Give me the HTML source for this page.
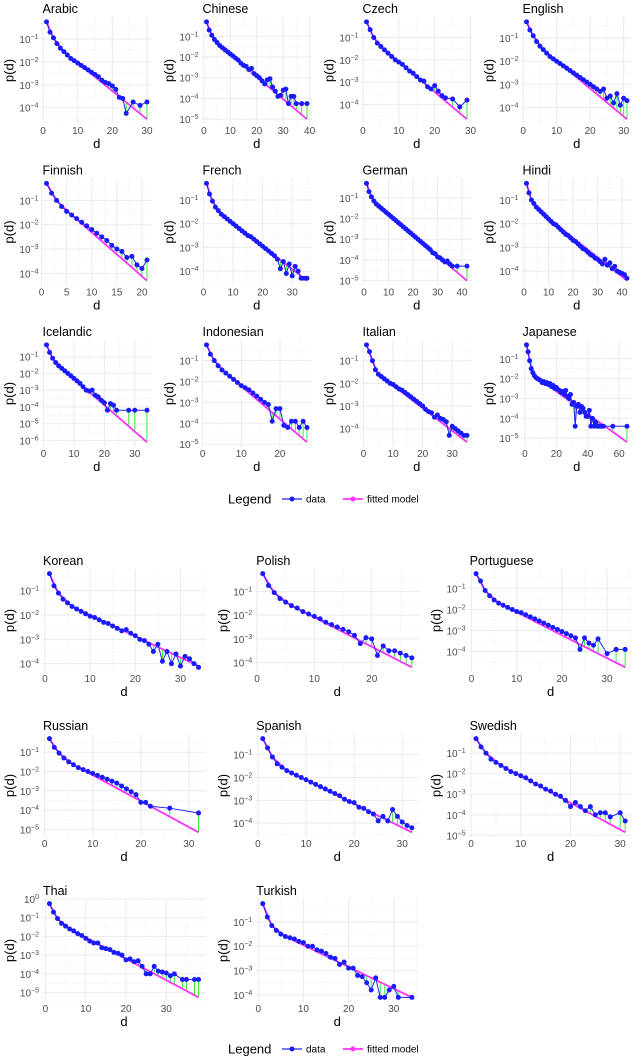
<!DOCTYPE html>
<html><head><meta charset="utf-8">
<style>
body{margin:0;background:#fff;width:640px;height:1057px;overflow:hidden;font-family:"Liberation Sans",sans-serif}
svg text{font-family:"Liberation Sans","DejaVu Sans",sans-serif}
</style></head><body>
<svg id="chart" width="640" height="1057" viewBox="0 0 640 1057" xmlns="http://www.w3.org/2000/svg"></svg>
<script>
// log10 p(d) values for d=1..N (null = no observation)
const languages = ["Arabic","Chinese","Czech","English","Finnish","French","German","Hindi","Icelandic","Indonesian","Italian","Japanese","Korean","Polish","Portuguese","Russian","Spanish","Swedish","Thai","Turkish"];
const dataArabic = [-0.25,-0.7,-0.95,-1.2,-1.4,-1.55,-1.7,-1.85,-1.95,-2.05,-2.15,-2.25,-2.35,-2.45,-2.55,-2.65,-2.8,-2.9,-2.95,-3.05,-3.2,-3.55,-3.6,-4.25,null,-3.75,null,-3.9,null,-3.75];
const dataChinese = [-0.3,-0.7,-0.95,-1.15,-1.3,-1.45,-1.55,-1.65,-1.75,-1.85,-1.95,-2.05,-2.15,-2.3,-2.4,-2.45,-2.6,-2.55,-2.8,-2.9,-3.0,-3.15,-3.3,-3.1,-3.05,-3.45,-3.65,-3.9,-3.85,-3.6,-3.55,-4.25,-3.9,-3.9,-4.25,null,-4.25,null,-4.25];
const dataCzech = [-0.3,-0.65,-1.0,-1.25,-1.4,-1.55,-1.7,-1.85,-2.0,-2.1,-2.2,-2.35,-2.5,-2.6,-2.75,-2.9,-2.95,-3.2,-3.3,-3.15,-3.4,-3.6,-3.7,null,-3.75,null,-4.1,null,-3.8];
const dataEnglish = [-0.3,-0.65,-0.9,-1.15,-1.35,-1.5,-1.65,-1.8,-1.9,-2.0,-2.1,-2.2,-2.3,-2.4,-2.5,-2.6,-2.7,-2.8,-2.9,-3.0,-3.1,-3.2,-3.3,-3.2,-3.6,-3.5,-3.8,-3.4,-3.9,-3.6,-3.7];
const dataFinnish = [-0.3,-0.7,-1.0,-1.25,-1.45,-1.6,-1.75,-1.9,-2.05,-2.2,-2.35,-2.5,-2.65,-2.85,-3.0,-3.1,-3.35,-3.3,-3.65,-3.8,-3.45];
const dataFrench = [-0.3,-0.75,-1.05,-1.3,-1.45,-1.6,-1.7,-1.8,-1.9,-2.0,-2.1,-2.2,-2.3,-2.4,-2.5,-2.55,-2.65,-2.75,-2.85,-2.95,-3.05,-3.15,-3.25,-3.35,-3.5,-3.9,-3.6,-4.1,-3.7,-4.2,-3.8,-4.0,-4.3,-4.3,-4.3];
const dataGerman = [-0.3,-0.7,-0.95,-1.15,-1.3,-1.4,-1.5,-1.6,-1.7,-1.8,-1.9,-2.0,-2.1,-2.2,-2.3,-2.4,-2.5,-2.6,-2.7,-2.8,-2.9,-3.0,-3.1,-3.2,-3.3,-3.4,-3.5,-3.65,-3.7,-3.85,-3.9,-4.0,-4.1,-4.05,-4.2,-4.3,null,-4.3,null,null,null,-4.3];
const dataHindi = [-0.3,-0.7,-1.0,-1.15,-1.3,-1.4,-1.5,-1.6,-1.7,-1.8,-1.9,-2.0,-2.05,-2.15,-2.25,-2.35,-2.45,-2.5,-2.6,-2.7,-2.75,-2.85,-2.95,-3.05,-3.1,-3.2,-3.3,-3.35,-3.45,-3.5,-3.6,-3.7,-3.5,-3.75,-3.65,-3.9,-3.8,-4.0,-4.05,-4.1,-4.15,-4.3];
const dataIcelandic = [-0.3,-0.75,-1.1,-1.35,-1.55,-1.7,-1.85,-2.0,-2.15,-2.3,-2.45,-2.6,-2.8,-3.0,-3.05,-3.0,-3.3,-3.4,-3.6,-3.75,-4.2,-3.8,-3.9,-4.2,null,null,null,-4.2,null,-4.2,null,null,null,-4.2];
const dataIndonesian = [-0.25,-0.7,-1.0,-1.25,-1.45,-1.6,-1.75,-1.9,-2.05,-2.2,-2.3,-2.4,-2.55,-2.7,-2.85,-3.0,-3.1,-3.9,-3.3,-3.3,-4.1,-4.2,-3.9,-3.9,-4.2,-3.9,-4.2];
const dataItalian = [-0.3,-0.6,-1.0,-1.4,-1.6,-1.7,-1.8,-1.9,-2.0,-2.05,-2.15,-2.25,-2.3,-2.4,-2.5,-2.6,-2.7,-2.8,-2.9,-3.0,-3.15,-3.25,-3.3,-3.5,-3.4,-3.55,-3.6,-3.7,-4.3,-3.9,-4.0,-4.1,-4.2,-4.3,-4.3];
const dataJapanese = [-0.3,-0.65,-1.1,-1.5,-1.7,-1.85,-1.95,-2.0,-2.05,-2.1,-2.2,-2.15,-2.25,-2.2,-2.3,-2.25,-2.4,-2.35,-2.5,-2.45,-2.55,-2.6,-2.7,-2.65,-2.8,-2.6,-2.9,-3.0,-2.8,-3.3,-3.2,-4.4,-3.4,-3.3,-3.7,-3.4,-3.5,-3.7,-3.9,-3.9,-3.6,-4.4,-4.0,-4.4,-4.2,-4.4,-4.4,-4.4,-4.4,-4.4,null,null,null,null,null,-4.4,null,null,null,null,null,null,null,null,-4.4];
const dataKorean = [-0.3,-0.8,-1.1,-1.35,-1.5,-1.65,-1.75,-1.85,-1.95,-2.05,-2.1,-2.2,-2.3,-2.35,-2.45,-2.55,-2.65,-2.6,-2.75,-2.85,-3.0,-3.05,-3.2,-3.5,-3.2,-3.9,-3.5,-4.0,-3.6,-4.1,-3.7,-3.8,-4.0,-4.15];
const dataPolish = [-0.25,-0.75,-1.05,-1.3,-1.45,-1.6,-1.7,-1.85,-1.95,-2.05,-2.15,-2.3,-2.4,-2.5,-2.6,-2.7,-2.85,-3.2,-2.95,-3.0,-3.7,-3.3,-3.5,-3.5,-3.6,-3.7,-3.8];
const dataPortuguese = [-0.3,-0.65,-1.1,-1.35,-1.55,-1.7,-1.8,-1.9,-2.0,-2.1,-2.15,-2.25,-2.35,-2.45,-2.55,-2.65,-2.75,-2.85,-2.95,-3.05,-3.15,-3.25,-3.35,-3.9,-3.35,-3.6,-3.7,-3.4,null,-4.1,null,-3.9,null,-3.9];
const dataRussian = [-0.3,-0.75,-1.05,-1.3,-1.5,-1.65,-1.8,-1.9,-2.0,-2.1,-2.2,-2.3,-2.4,-2.5,-2.6,-2.75,-2.9,-3.05,-3.2,-3.6,-3.6,-3.8,null,null,null,-3.9,null,null,null,null,null,-4.15];
const dataSpanish = [-0.3,-0.7,-1.1,-1.4,-1.55,-1.7,-1.8,-1.9,-2.0,-2.1,-2.2,-2.3,-2.4,-2.5,-2.6,-2.7,-2.8,-2.95,-3.05,-3.1,-3.3,-3.35,-3.5,-3.6,-3.9,-3.7,-3.9,-3.4,-3.7,-3.95,-4.1,-4.2];
const dataSwedish = [-0.3,-0.7,-1.0,-1.3,-1.45,-1.6,-1.75,-1.9,-2.0,-2.1,-2.2,-2.35,-2.5,-2.6,-2.75,-2.85,-3.0,-3.1,-3.3,-3.6,-3.4,-3.6,-3.8,-3.6,-4.0,-3.9,-3.9,-4.1,null,-3.9,-4.3];
const dataThai = [-0.25,-0.7,-1.05,-1.3,-1.45,-1.6,-1.7,-1.85,-1.95,-2.1,-2.25,-2.35,-2.35,-2.6,-2.65,-2.7,-2.85,-2.9,-3.0,-3.25,-3.2,-3.35,-3.3,-3.6,-4.0,-4.0,-3.6,-3.85,-3.9,-3.95,-4.1,-4.0,null,-4.3,-4.3,null,-4.3,-4.3];
const dataTurkish = [-0.25,-0.8,-1.15,-1.35,-1.5,-1.6,-1.65,-1.7,-1.8,-1.85,-2.0,-2.0,-2.15,-2.2,-2.3,-2.45,-2.5,-2.75,-2.65,-2.9,-2.9,-3.2,-3.25,-3.5,-3.8,-3.3,-4.1,-4.1,-3.8,-3.65,-4.1,null,null,-4.1];
const seriesData = [dataArabic,dataChinese,dataCzech,dataEnglish,dataFinnish,dataFrench,dataGerman,dataHindi,dataIcelandic,dataIndonesian,dataItalian,dataJapanese,dataKorean,dataPolish,dataPortuguese,dataRussian,dataSpanish,dataSwedish,dataThai,dataTurkish];
// fitted model knots [d, log10 p]
const fitArabic=[[1,-0.25],[3,-0.95],[6,-1.55],[30,-4.5]];
const fitChinese=[[1,-0.3],[3,-0.95],[6,-1.45],[39,-5.0]];
const fitCzech=[[1,-0.3],[3,-1.0],[6,-1.55],[29,-4.65]];
const fitEnglish=[[1,-0.3],[3,-0.9],[6,-1.5],[31,-4.5]];
const fitFinnish=[[1,-0.3],[3,-1.0],[6,-1.6],[21,-4.3]];
const fitFrench=[[1,-0.3],[3,-1.05],[6,-1.6],[35,-4.4]];
const fitGerman=[[1,-0.3],[3,-0.95],[6,-1.4],[42,-5.0]];
const fitHindi=[[1,-0.3],[3,-1.0],[6,-1.45],[42,-4.4]];
const fitIcelandic=[[1,-0.3],[3,-1.1],[6,-1.7],[34,-6.1]];
const fitIndonesian=[[1,-0.25],[3,-1.0],[6,-1.6],[27,-4.9]];
const fitItalian=[[1,-0.3],[3,-1.0],[5,-1.6],[35,-4.6]];
const fitJapanese=[[1,-0.3],[3,-1.1],[6,-1.85],[65,-5.2]];
const fitKorean=[[1,-0.3],[3,-1.1],[6,-1.65],[34,-4.1]];
const fitPolish=[[1,-0.25],[3,-1.05],[6,-1.6],[27,-4.2]];
const fitPortuguese=[[1,-0.3],[3,-1.1],[6,-1.7],[34,-4.75]];
const fitRussian=[[1,-0.3],[3,-1.05],[6,-1.65],[32,-5.15]];
const fitSpanish=[[1,-0.3],[3,-1.1],[6,-1.7],[32,-4.4]];
const fitSwedish=[[1,-0.3],[3,-1.0],[6,-1.6],[31,-4.85]];
const fitThai=[[1,-0.25],[3,-1.05],[6,-1.6],[38,-5.25]];
const fitTurkish=[[1,-0.25],[3,-1.15],[6,-1.6],[34,-4.1]];
const seriesFit=[fitArabic,fitChinese,fitCzech,fitEnglish,fitFinnish,fitFrench,fitGerman,fitHindi,fitIcelandic,fitIndonesian,fitItalian,fitJapanese,fitKorean,fitPolish,fitPortuguese,fitRussian,fitSpanish,fitSwedish,fitThai,fitTurkish];
const legendLabels=["data","fitted model"];

const svg=document.getElementById('chart');
const NS='http://www.w3.org/2000/svg';
function mk(tag,attrs,parent,text){const e=document.createElementNS(NS,tag);for(const k in attrs)e.setAttribute(k,attrs[k]);if(text!==undefined)e.textContent=text;parent.appendChild(e);return e;}
function fitAt(fit,d){for(let i=0;i<fit.length-1;i++){if(d<=fit[i+1][0]){const t=(d-fit[i][0])/(fit[i+1][0]-fit[i][0]);return fit[i][1]+t*(fit[i+1][1]-fit[i][1]);}}return fit[fit.length-1][1];}

function panel(idx,px0,px1,py0,py1){
  const name=languages[idx],vals=seriesData[idx],fit=seriesFit[idx];
  const g=mk('g',{},svg);
  
  
  const N=vals.length;
  let lo=Infinity,hi=-Infinity;
  vals.forEach(v=>{if(v!==null){lo=Math.min(lo,v);hi=Math.max(hi,v);}});
  fit.forEach(p=>{lo=Math.min(lo,p[1]);hi=Math.max(hi,p[1]);});
  const yr=hi-lo,ylo=lo-0.05*yr,yhi=hi+0.05*yr;
  const xr=N-1,xlo=1-0.05*xr,xhi=N+0.05*xr;
  const X=d=>px0+(d-xlo)/(xhi-xlo)*(px1-px0);
  const Y=v=>py1-(v-ylo)/(yhi-ylo)*(py1-py0);
  const step=N<=22?5:(N>50?20:10);
  for(let t=0;t<=xhi;t+=step/2){if(t<xlo)continue;const major=(t%step===0);
    const l=mk('line',{x1:X(t),x2:X(t),y1:py0,y2:py1,stroke:major?'#ebebeb':'#f4f4f4','stroke-width':major?1:0.6},g);
    
    if(major){const tx=mk('text',{x:X(t),y:py1+10,'font-size':10,fill:'#4d4d4d','text-anchor':'middle'},g,String(t));
      }}
  for(let k=Math.ceil(ylo*2)/2;k<=yhi;k+=0.5){const major=Number.isInteger(k);
    const l=mk('line',{x1:px0,x2:px1,y1:Y(k),y2:Y(k),stroke:major?'#ebebeb':'#f4f4f4','stroke-width':major?1:0.6},g);
    
    if(major){const tx=mk('text',{x:px0-3,y:Y(k)+4,'font-size':10,fill:'#4d4d4d','text-anchor':'end'},g);
      
      mk('tspan',{},tx,'10');
      mk('tspan',{dy:-4,'font-size':7},tx,k===0?'0':'\u2212'+(-k));}}
  const ti=mk('text',{x:px0+1,y:py0-4,'font-size':12.5,fill:'#000'},g,name);
  
  const xl=mk('text',{x:(px0+px1)/2,y:py1+24,'font-size':13,fill:'#000','text-anchor':'middle'},g,'d');
  
  const yl=mk('text',{x:0,y:0,'font-size':13,fill:'#000','text-anchor':'middle',transform:`translate(${px0-28},${(py0+py1)/2}) rotate(-90)`},g,'p(d)');
  
  const pts=[];vals.forEach((v,i)=>{if(v!==null)pts.push([i+1,v]);});
  pts.forEach(p=>{const l=mk('line',{x1:X(p[0]),x2:X(p[0]),y1:Y(p[1]),y2:Y(fitAt(fit,p[0])),stroke:'#33ee33','stroke-width':1},g);
    });
  const fl=mk('polyline',{points:fit.map(p=>X(p[0])+','+Y(p[1])).join(' '),fill:'none',stroke:'#ff33ff','stroke-width':1.8},g);
  
  const dl=mk('polyline',{points:pts.map(p=>X(p[0])+','+Y(p[1])).join(' '),fill:'none',stroke:'#2222ee','stroke-width':1},g);
  
  pts.forEach(p=>{const c=mk('circle',{cx:X(p[0]),cy:Y(p[1]),r:2.5,fill:'#1a1aff'},g);
    });
}
for(let i=0;i<12;i++){const c=i%4,r=Math.floor(i/4);const ox=c*160,oy=[17,178.5,340][r];panel(i,ox+41.5,ox+152,oy,oy+107);}
for(let i=12;i<20;i++){const j=i-12,c=j%3,r=Math.floor(j/3);const ox=c*213.3,oy=[569,734,899][r];panel(i,ox+42,ox+206,oy,oy+103);}

function legend(cy){
  const g=mk('g',{},svg);
  
  const t=mk('text',{x:228,y:cy+4.5,'font-size':13,fill:'#000'},g,'Legend');
  
  const e1=mk('g',{},g);
  mk('line',{x1:282,x2:302,y1:cy,y2:cy,stroke:'#2222ee','stroke-width':1.2},e1);
  mk('circle',{cx:292,cy:cy,r:2.5,fill:'#1a1aff'},e1);
  mk('text',{x:306,y:cy+3.5,'font-size':10,fill:'#000'},e1,legendLabels[0]);
  const e2=mk('g',{},g);
  mk('line',{x1:343,x2:363,y1:cy,y2:cy,stroke:'#ff33ff','stroke-width':1.8},e2);
  mk('circle',{cx:353,cy:cy,r:2.5,fill:'#ff33ff'},e2);
  mk('text',{x:367,y:cy+3.5,'font-size':10,fill:'#000'},e2,legendLabels[1]);
}
legend(499);legend(1049);
</script>
</body></html>
